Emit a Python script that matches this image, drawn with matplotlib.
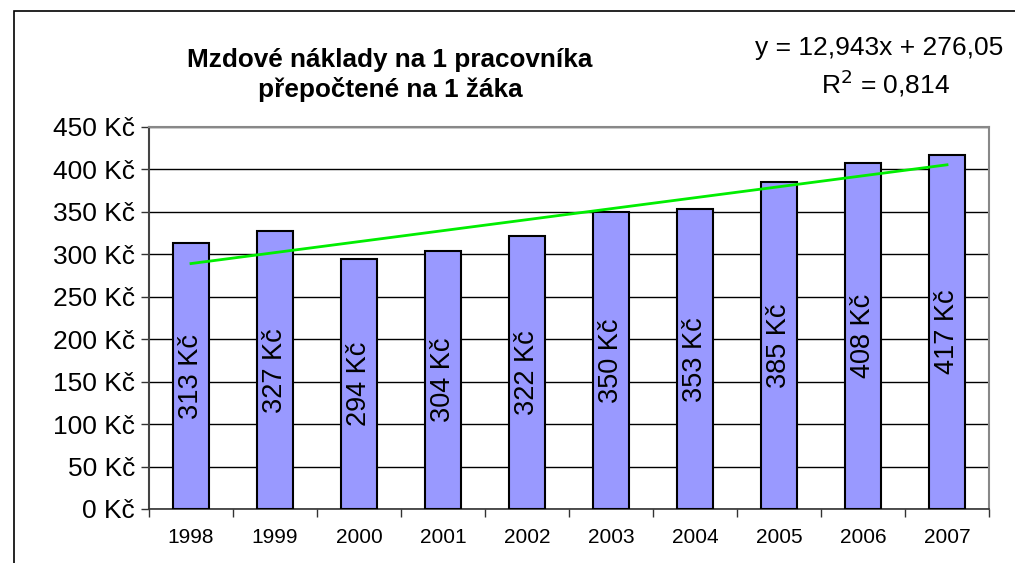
import numpy as np
import matplotlib.pyplot as plt
from matplotlib.patches import Rectangle

plt.rcParams['font.family'] = ['Liberation Sans', 'DejaVu Sans']

years = ['1998', '1999', '2000', '2001', '2002', '2003', '2004', '2005', '2006', '2007']
costs = [313, 327, 294, 304, 322, 350, 353, 385, 408, 417]
y_ticks = [0, 50, 100, 150, 200, 250, 300, 350, 400, 450]

fig = plt.figure(figsize=(10.15, 5.63), dpi=100)
W, H = 1015, 563
ax = fig.add_axes([149 / W, 1 - 509 / H, (989 - 149) / W, (509 - 127) / H])

# outer chart frame (cut off at right and bottom)
fig.patches.append(Rectangle((14 / W, -0.1), 1.2, 1 - 11 / H + 0.1,
                             transform=fig.transFigure, fill=False,
                             edgecolor='black', linewidth=1.2))

x = np.arange(len(years))
ax.bar(x, costs, width=0.42, color='#9999ff', edgecolor='black', linewidth=1.5, zorder=3)

for xi, v in zip(x, costs):
    ax.text(xi, v / 2, f'{v} Kč', rotation=90, ha='center', va='center',
            fontsize=19.5, zorder=4)

# linear trend
k, q = np.polyfit(x + 1, costs, 1)
ax.plot([x[0], x[-1]], [k * 1 + q, k * 10 + q], color='#00ee00', linewidth=2, zorder=5)

ax.set_xlim(-0.5, len(years) - 0.5)
ax.set_ylim(0, 450)
ax.set_yticks(y_ticks)
ax.set_yticklabels([f'{t} Kč' for t in y_ticks], fontsize=19)
ax.yaxis.grid(True, color='black', linewidth=1)
ax.set_axisbelow(True)

ax.set_xticks(x)
ax.set_xticklabels(years, fontsize=15)
ax.set_xticks(np.arange(len(years) + 1) - 0.5, minor=True)
ax.tick_params(axis='x', which='major', length=0, pad=14)
ax.tick_params(axis='x', which='minor', length=6, width=1, direction='out', color='#333333')
ax.tick_params(axis='y', length=6, width=1, direction='out', color='#333333', pad=4)

for s in ['top', 'right']:
    ax.spines[s].set_color('#888888')
    ax.spines[s].set_linewidth(1.5)
ax.spines['left'].set_color('#444444')
ax.spines['left'].set_linewidth(1.5)
ax.spines['bottom'].set_color('#333333')
ax.spines['bottom'].set_linewidth(1.2)

fig.text(390 / W, 1 - 75 / H, 'Mzdové náklady na 1 pracovníka\npřepočtené na 1 žáka',
         ha='center', va='center', fontsize=18.8, fontweight='bold', linespacing=1.25)
fig.text(1003 / W, 1 - 48 / H, 'y = 12,943x + 276,05', ha='right', va='center', fontsize=19)
fig.text(886 / W, 1 - 83 / H, 'R$^2$ = 0,814', ha='center', va='center', fontsize=19)

fig.savefig('out.png', dpi=100)
